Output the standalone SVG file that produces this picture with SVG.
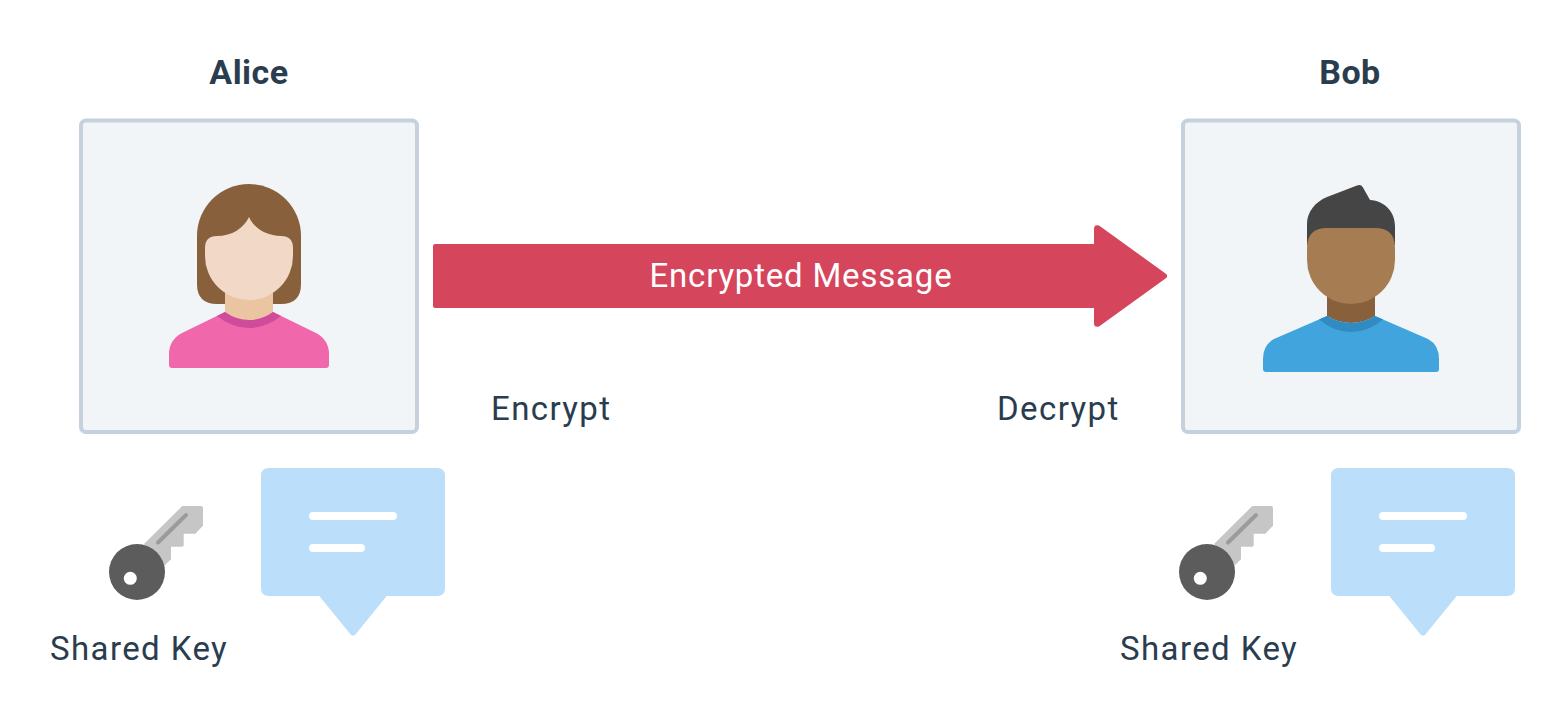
<svg xmlns="http://www.w3.org/2000/svg" width="1567" height="720" viewBox="0 0 1567 720">
<style>
text{font-family:"Roboto","Noto Sans",sans-serif;font-size:33px;fill:#2a3d4f}
.name{font-size:34px;font-weight:700;text-anchor:middle;letter-spacing:.5px}
.label{letter-spacing:1.4px}
.box{fill:#f1f5f8;stroke:#c5d2dd;stroke-width:4}
.blade{fill:#c6c6c6}.slot{stroke:#9b9b9b;stroke-width:4;stroke-linecap:round;fill:none}
.head{fill:#5c5c5c}.bubble{fill:#bbdefb}.ln{fill:#fff}
</style>
<defs>
<g id="key">
<path class="blade" d="M144 544L182.300 506H201Q203 506 203 508V525.700L195.300 533.700H183.700V545Q183.700 546.700 182 546.700H171V559.300L163 567Z"/>
<path class="slot" d="M158 542.500L186 515"/>
<circle class="head" cx="137" cy="572" r="28"/>
<circle class="ln" cx="130.300" cy="578.300" r="6.500"/>
</g>
<g id="msg">
<path class="bubble" d="M269 468H437Q445 468 445 476V588Q445 596 437 596H386.700L356 633.800Q353 637.500 350 633.800L319.300 596H269Q261 596 261 588V476Q261 468 269 468Z"/>
<rect class="ln" x="309" y="512" width="88" height="8" rx="4"/>
<rect class="ln" x="309" y="544" width="56" height="8" rx="4"/>
</g>
</defs>
<g id="alice">
<text class="name" x="249" y="83.500">Alice</text>
<rect class="box" x="81" y="120.500" width="336" height="311.500" rx="5"/>
<path fill="#88603c" d="M197 236A52 52 0 0 1 301 236V284Q301 304 281 304H217Q197 304 197 284Z"/>
<path fill="#ebc4a2" d="M225 285H273V312Q262 320 249 320Q236 320 225 312Z"/>
<path fill="#f068ab" d="M225 312Q236 320 249 320Q262 320 273 312L316 333Q329 340 329 354V365Q329 368 326 368H172Q169 368 169 365V354Q169 340 182 333Z"/>
<path fill="#cf4c9b" d="M217 316L225 312Q236 320 249 320Q262 320 273 312L281 316Q266 328 249 328Q232 328 217 316Z"/>
<path fill="#f2d9c7" d="M205 248Q205 236 217 236C232 236 244 228 249 217C254 228 266 236 281 236Q293 236 293 248V256A44 44 0 0 1 205 256Z"/>
</g>
<g id="bob">
<text class="name" x="1350" y="83.500">Bob</text>
<rect class="box" x="1183" y="120.500" width="336" height="311.500" rx="5"/>
<path fill="#454545" d="M1307 245V224C1307 212 1315 202 1327 197L1357 185.500Q1361 184 1363 187.500L1370 200C1385 201 1395 212 1395 226V245Z"/>
<path fill="#88603c" d="M1327 285H1375V316Q1364 323 1351 323Q1338 323 1327 316Z"/>
<path fill="#41a4dc" d="M1327 316Q1338 323 1351 323Q1364 323 1375 316L1428 339Q1439 345 1439 359V369Q1439 372 1436 372H1266Q1263 372 1263 369V359Q1263 345 1274 339Z"/>
<path fill="#2f8bc1" d="M1319 319.500L1327 316Q1338 323 1351 323Q1364 323 1375 316L1383 319.500Q1368 332 1351 332Q1334 332 1319 319.500Z"/>
<path fill="#a67c52" d="M1327 228H1375Q1395 228 1395 248V260A44 44 0 0 1 1307 260V248Q1307 228 1327 228Z"/>
</g>
<g id="connectors">
<path id="message-arrow" fill="#d5455c" d="M435 244H1094V229Q1094 224 1099 225.500L1165.500 273.500Q1169 276 1165.500 278.500L1099 326.500Q1094 328 1094 323V308H435Q433 308 433 306V246Q433 244 435 244Z"/>
<text x="801" y="287" text-anchor="middle" style="fill:#fff;letter-spacing:.8px">Encrypted Message</text>
</g>
<g id="encrypt"><text class="label" x="491" y="419.500">Encrypt</text></g>
<g id="decrypt"><text class="label" x="997" y="419.500">Decrypt</text></g>
<g id="alice-key"><use href="#key"/><text class="label" x="50" y="659.500">Shared Key</text></g>
<g id="alice-message"><use href="#msg"/></g>
<g id="bob-key"><use href="#key" x="1070"/><text class="label" x="1120" y="659.500">Shared Key</text></g>
<g id="bob-message"><use href="#msg" x="1070"/></g>
</svg>
